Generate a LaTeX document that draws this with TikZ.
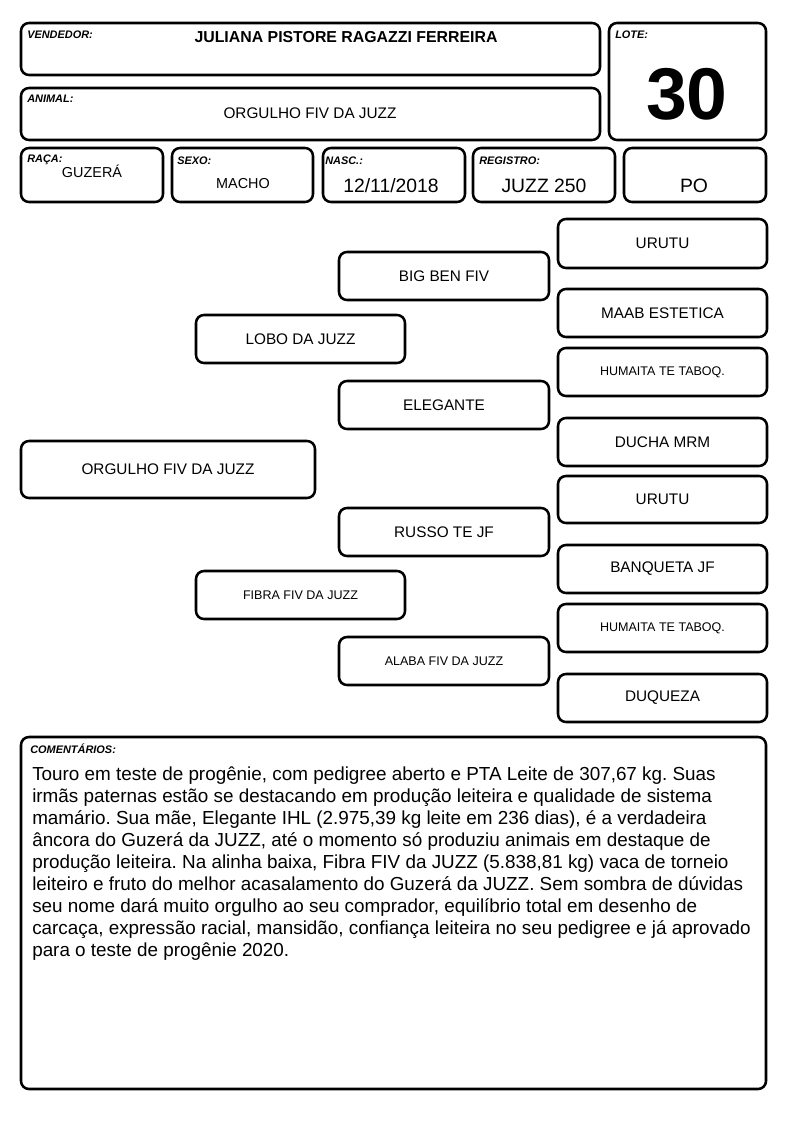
\documentclass[tikz,border=0pt]{standalone}
\usepackage{fontspec}
\setmainfont{Liberation Sans}
\frenchspacing
\tikzset{
  box/.style={draw=black, line width=1.9pt, rounded corners=6pt, inner sep=0pt, outer sep=0pt, align=center},
  lbl/.style={anchor=base west, inner sep=0pt, font=\fontsize{8.2}{9}\selectfont\bfseries\itshape},
  val/.style={anchor=base, inner sep=0pt},
  pedbig/.style={font=\fontsize{11.5}{13}\selectfont},
  pedsmall/.style={font=\fontsize{9.4}{11}\selectfont},
}
\newcommand\pbox[7][]{\node[box,#1, minimum width={(#4-#2)*0.75pt}, minimum height={(#5-#3)*0.75pt}] (#6) at ({(#2+#4)/2},{(#3+#5)/2}) {#7};}
\begin{document}
\begin{tikzpicture}[x=0.75pt,y=-0.75pt]
\useasboundingbox (0,0) rectangle (794,1123);
% header boxes
\pbox{21}{23}{600}{75}{vend}{}
\pbox{21}{88}{600}{140}{animal}{}
\pbox{609}{23}{766}{140}{lote}{}
\pbox{21}{148}{163}{202}{raca}{}
\pbox{172}{148}{313}{202}{sexo}{}
\pbox{323}{148}{465}{202}{nasc}{}
\pbox{473}{148}{615}{202}{reg}{}
\pbox{624}{148}{766}{202}{po}{}
% labels
\node[lbl] (lvend) at (27,39) {VENDEDOR:};
\node[lbl] (lanimal) at (27,103) {ANIMAL:};
\node[lbl] (llote) at (615,39) {LOTE:};
\node[lbl] (lraca) at (27,163) {RAÇA:};
\node[lbl] (lsexo) at (177,165) {SEXO:};
\node[lbl] (lnasc) at (325,165) {NASC.:};
\node[lbl] (lreg) at (479,165) {REGISTRO:};
% values
\node[val, font=\fontsize{11.9}{14}\selectfont\bfseries] (tvend) at (346,43) {JULIANA PISTORE RAGAZZI FERREIRA};
\node[val, font=\fontsize{11.5}{14}\selectfont] (tanimal) at (310,119) {ORGULHO FIV DA JUZZ};
\node[val, font=\fontsize{55}{60}\selectfont\bfseries] (tlote) at (687,120) {30};
\node[val, font=\fontsize{10.8}{13}\selectfont] (traca) at (92,178) {GUZERÁ};
\node[val, font=\fontsize{10.8}{13}\selectfont] (tsexo) at (243,189) {MACHO};
\node[val, font=\fontsize{14.5}{17}\selectfont] (tnasc) at (391,193) {12/11/2018};
\node[val, font=\fontsize{14.5}{17}\selectfont] (treg) at (544,193) {JUZZ 250};
\node[val, font=\fontsize{14.5}{17}\selectfont] (tpo) at (694,193) {PO};
% pedigree
\pbox[pedbig]{21}{441}{315}{498}{orgulho}{ORGULHO FIV DA JUZZ}
\pbox[pedbig]{196}{315}{405}{363}{lobo}{LOBO DA JUZZ}
\pbox[pedsmall]{196}{571}{405}{619}{fibra}{FIBRA FIV DA JUZZ}
\pbox[pedbig]{339}{252}{549}{300}{bigben}{BIG BEN FIV}
\pbox[pedbig]{339}{381}{549}{429}{elegante}{ELEGANTE}
\pbox[pedbig]{339}{508}{549}{556}{russo}{RUSSO TE JF}
\pbox[pedsmall]{339}{637}{549}{685}{alaba}{ALABA FIV DA JUZZ}
\pbox[pedbig]{558}{219}{767}{268}{urutua}{URUTU}
\pbox[pedbig]{558}{289}{767}{337}{maab}{MAAB ESTETICA}
\pbox[pedsmall]{558}{348}{767}{396}{humaitaa}{HUMAITA TE TABOQ.}
\pbox[pedbig]{558}{418}{767}{466}{ducha}{DUCHA MRM}
\pbox[pedbig]{558}{476}{767}{523}{urutub}{URUTU}
\pbox[pedbig]{558}{545}{767}{593}{banqueta}{BANQUETA JF}
\pbox[pedsmall]{558}{604}{767}{652}{humaitab}{HUMAITA TE TABOQ.}
\pbox[pedbig]{558}{674}{767}{722}{duqueza}{DUQUEZA}
% comments
\pbox{21}{737}{766}{1089}{coment}{}
\node[lbl] (lcoment) at (30,753) {COMENTÁRIOS:};
\node[anchor=base west, inner sep=0pt, font=\fontsize{14.15}{16.5}\selectfont] (tcoment) at (32,780) {\begin{tabular}[t]{@{}l@{}}Touro em teste de progênie, com pedigree aberto e PTA Leite de 307,67 kg. Suas\\
irmãs paternas estão se destacando em produção leiteira e qualidade de sistema\\
mamário. Sua mãe, Elegante IHL (2.975,39 kg leite em 236 dias), é a verdadeira\\
âncora do Guzerá da JUZZ, até o momento só produziu animais em destaque de\\
produção leiteira. Na alinha baixa, Fibra FIV da JUZZ (5.838,81 kg) vaca de torneio\\
leiteiro e fruto do melhor acasalamento do Guzerá da JUZZ. Sem sombra de dúvidas\\
seu nome dará muito orgulho ao seu comprador, equilíbrio total em desenho de\\
carcaça, expressão racial, mansidão, confiança leiteira no seu pedigree e já aprovado\\
para o teste de progênie 2020.\end{tabular}};
\end{tikzpicture}
\end{document}
